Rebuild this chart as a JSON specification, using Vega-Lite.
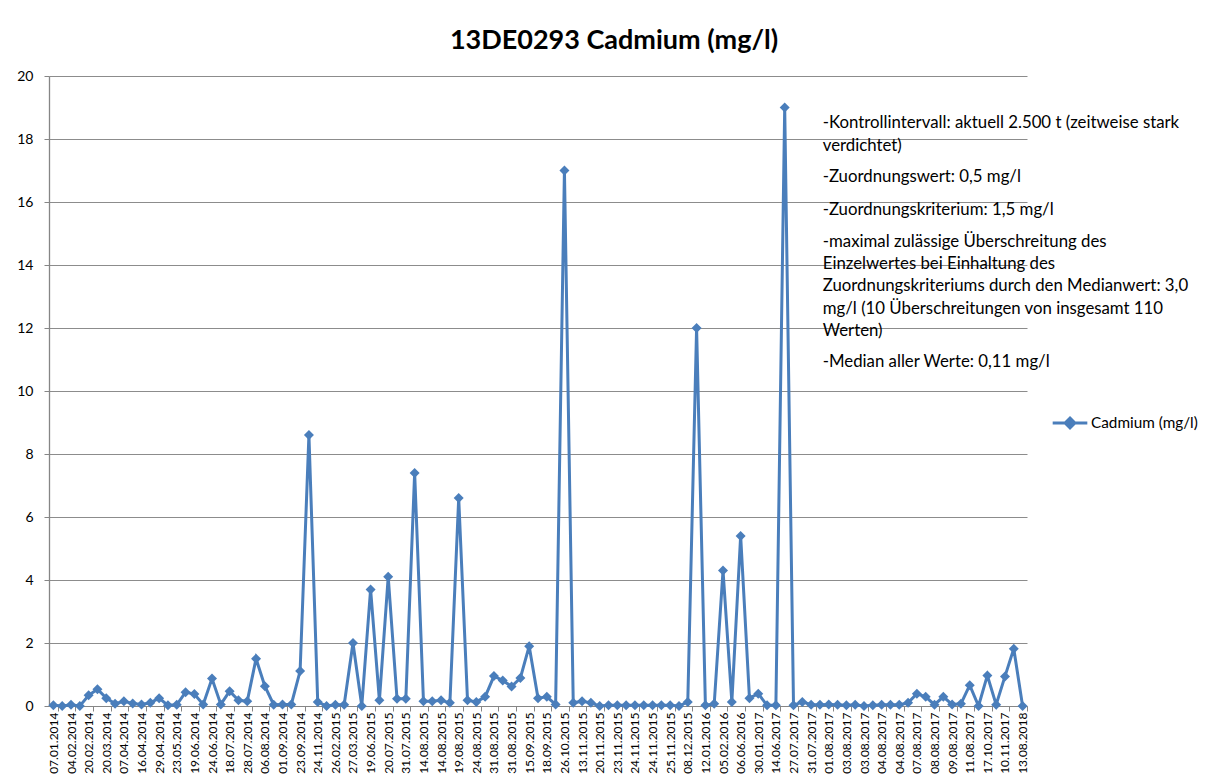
{
  "$schema": "https://vega.github.io/schema/vega-lite/v6.json",
  "width": 978,
  "height": 630,
  "autosize": {"type": "none"},
  "padding": {"left": 49, "top": 76, "right": 185, "bottom": 77},
  "background": "white",
  "config": {
    "font": "Lato",
    "view": {"stroke": null}
  },
  "title": {
    "text": "13DE0293 Cadmium (mg/l)",
    "font": "Lato",
    "fontSize": 27,
    "fontWeight": "bold",
    "color": "#000000",
    "anchor": "middle",
    "frame": "group",
    "dx": 76,
    "dy": 33,
    "offset": 26,
    "baseline": "alphabetic"
  },
  "data": {
    "values": [
      {"key": "07.01.2014", "v": 0.02}, {"key": "n1", "v": 0},
      {"key": "04.02.2014", "v": 0.04}, {"key": "n3", "v": 0},
      {"key": "20.02.2014", "v": 0.34}, {"key": "n5", "v": 0.53},
      {"key": "20.03.2014", "v": 0.25}, {"key": "n7", "v": 0.07},
      {"key": "07.04.2014", "v": 0.15}, {"key": "n9", "v": 0.08},
      {"key": "16.04.2014", "v": 0.05}, {"key": "n11", "v": 0.1},
      {"key": "29.04.2014", "v": 0.25}, {"key": "n13", "v": 0.02},
      {"key": "23.05.2014", "v": 0.04}, {"key": "n15", "v": 0.44},
      {"key": "19.06.2014", "v": 0.38}, {"key": "n17", "v": 0.05},
      {"key": "24.06.2014", "v": 0.87}, {"key": "n19", "v": 0.05},
      {"key": "18.07.2014", "v": 0.47}, {"key": "n21", "v": 0.18},
      {"key": "28.07.2014", "v": 0.15}, {"key": "n23", "v": 1.5},
      {"key": "06.08.2014", "v": 0.63}, {"key": "n25", "v": 0.04},
      {"key": "01.09.2014", "v": 0.05}, {"key": "n27", "v": 0.05},
      {"key": "23.09.2014", "v": 1.11}, {"key": "n29", "v": 8.6},
      {"key": "24.11.2014", "v": 0.13}, {"key": "n31", "v": 0},
      {"key": "26.02.2015", "v": 0.04}, {"key": "n33", "v": 0.04},
      {"key": "27.03.2015", "v": 2.0}, {"key": "n35", "v": 0},
      {"key": "19.06.2015", "v": 3.7}, {"key": "n37", "v": 0.18},
      {"key": "20.07.2015", "v": 4.1}, {"key": "n39", "v": 0.23},
      {"key": "31.07.2015", "v": 0.23}, {"key": "n41", "v": 7.4},
      {"key": "14.08.2015", "v": 0.15}, {"key": "n43", "v": 0.15},
      {"key": "14.08.2015\u200b", "v": 0.18}, {"key": "n45", "v": 0.1},
      {"key": "19.08.2015", "v": 6.6}, {"key": "n47", "v": 0.18},
      {"key": "24.08.2015", "v": 0.13}, {"key": "n49", "v": 0.29},
      {"key": "31.08.2015", "v": 0.95}, {"key": "n51", "v": 0.81},
      {"key": "31.08.2015\u200b", "v": 0.62}, {"key": "n53", "v": 0.89},
      {"key": "15.09.2015", "v": 1.9}, {"key": "n55", "v": 0.25},
      {"key": "18.09.2015", "v": 0.29}, {"key": "n57", "v": 0.05},
      {"key": "26.10.2015", "v": 17.0}, {"key": "n59", "v": 0.1},
      {"key": "13.11.2015", "v": 0.15}, {"key": "n61", "v": 0.1},
      {"key": "20.11.2015", "v": 0}, {"key": "n63", "v": 0.02},
      {"key": "23.11.2015", "v": 0.02}, {"key": "n65", "v": 0.02},
      {"key": "24.11.2015", "v": 0.02}, {"key": "n67", "v": 0.02},
      {"key": "24.11.2015\u200b", "v": 0.02}, {"key": "n69", "v": 0.02},
      {"key": "25.11.2015", "v": 0.02}, {"key": "n71", "v": 0},
      {"key": "08.12.2015", "v": 0.13}, {"key": "n73", "v": 12.0},
      {"key": "12.01.2016", "v": 0.02}, {"key": "n75", "v": 0.07},
      {"key": "05.02.2016", "v": 4.3}, {"key": "n77", "v": 0.13},
      {"key": "06.06.2016", "v": 5.4}, {"key": "n79", "v": 0.25},
      {"key": "30.01.2017", "v": 0.39}, {"key": "n81", "v": 0.02},
      {"key": "14.06.2017", "v": 0.02}, {"key": "n83", "v": 19.0},
      {"key": "27.07.2017", "v": 0.02}, {"key": "n85", "v": 0.13},
      {"key": "31.07.2017", "v": 0.04}, {"key": "n87", "v": 0.04},
      {"key": "01.08.2017", "v": 0.05}, {"key": "n89", "v": 0.04},
      {"key": "03.08.2017", "v": 0.02}, {"key": "n91", "v": 0.04},
      {"key": "03.08.2017\u200b", "v": 0}, {"key": "n93", "v": 0.02},
      {"key": "04.08.2017", "v": 0.04}, {"key": "n95", "v": 0.04},
      {"key": "04.08.2017\u200b", "v": 0.04}, {"key": "n97", "v": 0.1},
      {"key": "07.08.2017", "v": 0.39}, {"key": "n99", "v": 0.29},
      {"key": "08.08.2017", "v": 0.04}, {"key": "n101", "v": 0.29},
      {"key": "09.08.2017", "v": 0.05}, {"key": "n103", "v": 0.07},
      {"key": "11.08.2017", "v": 0.66}, {"key": "n105", "v": 0},
      {"key": "17.10.2017", "v": 0.97}, {"key": "n107", "v": 0.04},
      {"key": "10.11.2017", "v": 0.94}, {"key": "n109", "v": 1.82},
      {"key": "13.08.2018", "v": 0}
    ]
  },
  "encoding": {
    "x": {
      "field": "key",
      "type": "ordinal",
      "sort": null,
      "scale": {"type": "point", "padding": 0.5},
      "axis": {
        "title": null,
        "values": ["07.01.2014","04.02.2014","20.02.2014","20.03.2014","07.04.2014","16.04.2014","29.04.2014","23.05.2014","19.06.2014","24.06.2014","18.07.2014","28.07.2014","06.08.2014","01.09.2014","23.09.2014","24.11.2014","26.02.2015","27.03.2015","19.06.2015","20.07.2015","31.07.2015","14.08.2015","14.08.2015\u200b","19.08.2015","24.08.2015","31.08.2015","31.08.2015\u200b","15.09.2015","18.09.2015","26.10.2015","13.11.2015","20.11.2015","23.11.2015","24.11.2015","24.11.2015\u200b","25.11.2015","08.12.2015","12.01.2016","05.02.2016","06.06.2016","30.01.2017","14.06.2017","27.07.2017","31.07.2017","01.08.2017","03.08.2017","03.08.2017\u200b","04.08.2017","04.08.2017\u200b","07.08.2017","08.08.2017","09.08.2017","11.08.2017","17.10.2017","10.11.2017","13.08.2018"],
        "labelAngle": -90,
        "labelAlign": "right",
        "labelBaseline": "middle",
        "labelFont": "Lato",
        "labelFontSize": 12,
        "labelColor": "#000000",
        "labelPadding": 1,
        "labelOverlap": false,
        "labelBound": false,
        "labelFlush": false,
        "tickSize": 5,
        "tickColor": "#868686",
        "tickOffset": 4.4,
        "labelOffset": -4.4,
        "domainColor": "#868686",
        "domainWidth": 1,
        "grid": false
      }
    },
    "y": {
      "field": "v",
      "type": "quantitative",
      "scale": {"domain": [0, 20], "nice": false, "zero": true},
      "axis": {
        "title": null,
        "values": [0, 2, 4, 6, 8, 10, 12, 14, 16, 18, 20],
        "labelFont": "Lato",
        "labelFontSize": 14,
        "labelColor": "#000000",
        "labelPadding": 11,
        "tickSize": 5,
        "tickColor": "#868686",
        "domainColor": "#868686",
        "domainWidth": 1.3,
        "grid": true,
        "gridColor": "#8C8C8C",
        "gridWidth": 1
      }
    }
  },
  "layer": [
    {
      "mark": {"type": "line", "strokeWidth": 3},
      "encoding": {
        "color": {
          "datum": "Cadmium (mg/l)",
          "type": "nominal",
          "scale": {"range": ["#4A7EBB"]},
          "legend": {
            "title": null,
            "orient": "none",
            "legendX": 1002,
            "legendY": 328,
            "padding": 0,
            "symbolType": "M-1,0L1,0M0,-0.28L0.28,0L0,0.28L-0.28,0Z",
            "symbolSize": 1200,
            "symbolStrokeWidth": 3,
            "symbolFillColor": "#4A7EBB",
            "symbolStrokeColor": "#4A7EBB",
            "labelFont": "Lato",
            "labelFontSize": 15.3,
            "labelColor": "#000000",
            "labelOffset": 2
          }
        }
      }
    },
    {
      "mark": {"type": "point", "shape": "diamond", "size": 100, "filled": true, "color": "#4A7EBB", "opacity": 1}
    },
    {
      "transform": [{"filter": "datum.key === '01.08.2017'"}],
      "mark": {"type": "text", "align": "left", "baseline": "alphabetic", "fontSize": 16.8, "lineHeight": 22.3, "color": "#000000", "dx": -6},
      "encoding": {"y": {"datum": 18.34}, "text": {"value": ["-Kontrollintervall: aktuell 2.500 t (zeitweise stark", "verdichtet)"]}}
    },
    {
      "transform": [{"filter": "datum.key === '01.08.2017'"}],
      "mark": {"type": "text", "align": "left", "baseline": "alphabetic", "fontSize": 16.8, "color": "#000000", "dx": -6},
      "encoding": {"y": {"datum": 16.64}, "text": {"value": "-Zuordnungswert: 0,5 mg/l"}}
    },
    {
      "transform": [{"filter": "datum.key === '01.08.2017'"}],
      "mark": {"type": "text", "align": "left", "baseline": "alphabetic", "fontSize": 16.8, "color": "#000000", "dx": -6},
      "encoding": {"y": {"datum": 15.59}, "text": {"value": "-Zuordnungskriterium: 1,5 mg/l"}}
    },
    {
      "transform": [{"filter": "datum.key === '01.08.2017'"}],
      "mark": {"type": "text", "align": "left", "baseline": "alphabetic", "fontSize": 16.8, "lineHeight": 22.3, "color": "#000000", "dx": -6},
      "encoding": {"y": {"datum": 14.58}, "text": {"value": ["-maximal zulässige Überschreitung des", "Einzelwertes bei Einhaltung des", "Zuordnungskriteriums durch den Medianwert: 3,0", "mg/l (10 Überschreitungen von insgesamt 110", "Werten)"]}}
    },
    {
      "transform": [{"filter": "datum.key === '01.08.2017'"}],
      "mark": {"type": "text", "align": "left", "baseline": "alphabetic", "fontSize": 16.8, "color": "#000000", "dx": -6},
      "encoding": {"y": {"datum": 10.77}, "text": {"value": "-Median aller Werte: 0,11 mg/l"}}
    }
  ]
}
